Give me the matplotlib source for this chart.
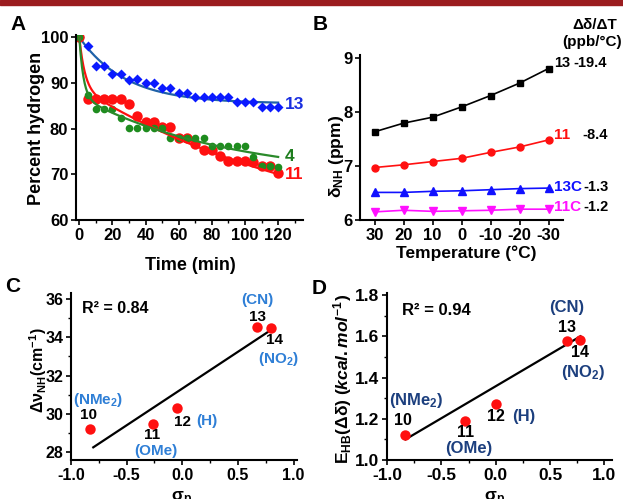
import numpy as np
import matplotlib
matplotlib.use("Agg")
import matplotlib.pyplot as plt
from matplotlib.patches import Rectangle
from matplotlib.ticker import MultipleLocator

plt.rcParams['font.family'] = ['Liberation Sans', 'DejaVu Sans']
plt.rcParams['font.weight'] = 'bold'
plt.rcParams['axes.unicode_minus'] = False
plt.rcParams['mathtext.fontset'] = 'custom'
plt.rcParams['mathtext.rm'] = 'Liberation Sans:bold'
plt.rcParams['mathtext.it'] = 'Liberation Sans:bold:italic'
plt.rcParams['mathtext.bf'] = 'Liberation Sans:bold'
plt.rcParams['mathtext.default'] = 'rm'

# ---- panel A: H/D exchange ----
time_min = [0, 5, 10, 15, 20, 25, 30, 35, 40, 45, 50, 55, 60, 65, 70, 75,
            80, 85, 90, 95, 100, 105, 110, 115, 120]
pct_13 = [100, 98, 93.8, 93.8, 92, 92, 90.7, 90.9, 89.9, 89.9, 88.8, 88.8, 87.7,
          87.9, 86.9, 86.9, 86.9, 86.9, 86.9, 85.8, 85.8, 85.8, 84.7, 84.7, 84.7]
pct_11 = [100, 86.5, 86.5, 86.5, 86.5, 86.5, 85.3, 82.8, 81.5, 81.5, 80.4, 80.4, 77.9,
          77.9, 76.6, 75.3, 75.3, 74.1, 72.9, 72.9, 72.9, 72.6, 71.8, 71.8, 70.3]
pct_4 = [100, 87.4, 84.3, 84.3, 84.3, 82.3, 80.1, 80.1, 80.1, 80.1, 80.1, 78.0, 78.0,
         78.0, 78.0, 78.0, 76.1, 76.1, 76.1, 76.1, 76.1, 73.9, 71.9, 71.9, 71.7]

# fitted decay parameters (plateau/amplitude/rate)
fit_13 = (85.5, 14.5, 0.0356)
fit_11 = (11.0, 0.30, 35.0, 0.0065)
fit_4 = (13.0, 0.40, 18.0, 0.011)

# ---- panel B: VT NMR ----
temps = [30, 20, 10, 0, -10, -20, -30]
d_13 = [7.63, 7.79, 7.90, 8.09, 8.30, 8.53, 8.80]
d_11 = [6.97, 7.02, 7.08, 7.14, 7.25, 7.35, 7.48]
d_13C = [6.51, 6.51, 6.53, 6.54, 6.56, 6.58, 6.59]
d_11C = [6.15, 6.18, 6.16, 6.17, 6.18, 6.20, 6.20]
slopes = ['-19.4', '-8.4', '-1.3', '-1.2']

# ---- panels C, D: Hammett ----
cmpd = ['10', '11', '12', '13', '14']
subst = ['(NMe$_2$)', '(OMe)', '(H)', '(CN)', '(NO$_2$)']
sigma_c = [-0.83, -0.26, -0.05, 0.67, 0.80]
dnu = [29.22, 29.48, 30.30, 34.52, 34.47]
fit_c_x = [-0.80, 0.79]
fit_c_y = [28.26, 34.35]
sigma_d = [-0.83, -0.28, 0.0, 0.655, 0.78]
ehb = [1.123, 1.191, 1.272, 1.578, 1.584]
fit_d_x = [-0.83, 0.78]
fit_d_y = [1.10, 1.60]

W, H = 623, 499
fig = plt.figure(figsize=(W / 100, H / 100), dpi=100)
fig.patches.append(Rectangle((0, 1 - 5 / H), 1, 5 / H, transform=fig.transFigure,
                             color='#9b1c1f', zorder=0))


def box(l, r, t, b):
    return [l / W, 1 - b / H, (r - l) / W, (b - t) / H]


def ftext(x, y, s, **kw):
    fig.text(x / W, 1 - y / H, s, **kw)


def style(ax, size):
    for s in ['top', 'right']:
        ax.spines[s].set_visible(False)
    for s in ['left', 'bottom']:
        ax.spines[s].set_linewidth(1.5)
    ax.tick_params(which='major', length=3.5, width=1.2, labelsize=size, pad=2)
    ax.tick_params(which='minor', length=2.5, width=1.0)


# A
axA = fig.add_axes(box(76, 303, 35, 220))
t = np.linspace(0, 120, 300)
axA.plot(t, fit_13[0] + fit_13[1] * np.exp(-fit_13[2] * t), color='#1f62a8', lw=1.6)
axA.plot(time_min, pct_13, 'D', color='#0a1aff', ms=5, mec='none')
axA.plot(time_min, pct_11, 'o', color='#ff1010', ms=7.5, mec='none')
axA.plot(time_min, pct_4, 'o', color='#1e8c1e', ms=5.5, mec='none')
y11 = 100 - fit_11[0] * (1 - np.exp(-fit_11[1] * t)) - fit_11[2] * (1 - np.exp(-fit_11[3] * t))
y4 = 100 - fit_4[0] * (1 - np.exp(-fit_4[1] * t)) - fit_4[2] * (1 - np.exp(-fit_4[3] * t))
axA.plot(t, y11, color='#ff1010', lw=1.6)
axA.plot(t, y4, color='#2a8a2a', lw=1.6)
axA.set_xlim(-2, 135)
axA.set_ylim(60, 100.5)
axA.set_xticks(range(0, 121, 20))
axA.xaxis.set_minor_locator(MultipleLocator(10))
axA.set_yticks(range(60, 101, 10))
style(axA, 12)
axA.text(124, 85.3, '13', color='#1a2fe0', fontsize=12.5, va='center')
axA.text(124, 73.8, '4', color='#1e7d1e', fontsize=12.5, va='center')
axA.text(124, 70.0, '11', color='#ff1010', fontsize=12.5, va='center')
ftext(37, 128, 'Percent hydrogen', rotation=90, ha='center', va='center', fontsize=13)
ftext(190, 265, 'Time (min)', ha='center', va='center', fontsize=13)
ftext(18, 25, 'A', ha='center', va='center', fontsize=15)

# B
axB = fig.add_axes(box(360, 563, 55, 220))
axB.plot(temps, d_13, '-s', color='black', ms=5, lw=1.2)
axB.plot(temps, d_11, '-o', color='#ff1010', ms=5, lw=1.2)
axB.plot(temps, d_13C, '-^', color='#1010ff', ms=5.5, lw=1.2)
axB.plot(temps, d_11C, '-v', color='#ff10ff', ms=5.5, lw=1.2)
axB.set_xlim(35, -35)
axB.set_ylim(6, 9.05)
axB.set_xticks(temps)
axB.set_yticks([6, 7, 8, 9])
style(axB, 12)
ftext(337, 156, 'δ$_{NH}$ (ppm)', rotation=90, ha='center', va='center', fontsize=12.5)
ftext(466, 253, 'Temperature (°C)', ha='center', va='center', fontsize=12.5)
ftext(320, 24, 'B', ha='center', va='center', fontsize=15)
ftext(595, 25, 'Δδ/ΔT', ha='center', va='center', fontsize=11)
ftext(592, 42, '(ppb/°C)', ha='center', va='center', fontsize=11)
lab_y = [63, 135, 187, 207]
lab_txt = ['13', '11', '13C', '11C']
lab_col = ['black', '#ff1010', '#1010ff', '#ff10ff']
slope_x = [573, 582, 583, 583]
for yy, s, c, sx, sl in zip(lab_y, lab_txt, lab_col, slope_x, slopes):
    ftext(554, yy, s, color=c, ha='left', va='center', fontsize=11 if c != 'black' else 10.5)
    ftext(sx, yy, sl, ha='left', va='center', fontsize=10.5)

# C
axC = fig.add_axes(box(71, 297, 293, 460))
axC.plot(fit_c_x, fit_c_y, color='black', lw=1.6)
axC.plot(sigma_c, dnu, 'o', color='#ff1010', ms=7.5, mec='none')
axC.set_xlim(-1.0, 1.03)
axC.set_ylim(27.6, 36.3)
axC.set_xticks([-1.0, -0.5, 0.0, 0.5, 1.0])
axC.set_yticks([28, 30, 32, 34, 36])
axC.xaxis.set_minor_locator(MultipleLocator(0.25))
axC.yaxis.set_minor_locator(MultipleLocator(1))
style(axC, 11.5)
blueC = '#2f7fd6'
axC.text(-0.90, 35.5, 'R² = 0.84', fontsize=11.5, va='center')
c_num = [(-0.84, 29.93), (-0.27, 28.88), (0.0, 29.56), (0.676, 35.06), (0.83, 33.85)]
c_sub = [(-0.757, 30.71), (-0.24, 28.09), (0.22, 29.61), (0.676, 35.95), (0.865, 32.86)]
for n, s, (nx, ny), (sx, sy) in zip(cmpd, subst, c_num, c_sub):
    axC.text(nx, ny, n, fontsize=11, ha='center', va='center')
    axC.text(sx, sy, s, fontsize=11, ha='center', va='center', color=blueC)
ftext(38, 370, 'Δν$_{NH}$(cm$^{-1}$)', rotation=90, ha='center', va='center', fontsize=11.5)
ftext(182, 501, 'σ$_p$', ha='center', va='baseline', fontsize=12.5)
ftext(13, 287, 'C', ha='center', va='center', fontsize=15)

# D
axD = fig.add_axes(box(387, 612, 293, 460))
axD.plot(fit_d_x, fit_d_y, color='black', lw=1.6)
axD.plot(sigma_d, ehb, 'o', color='#ff1010', ms=7.5, mec='none')
axD.set_xlim(-1.0, 1.07)
axD.set_ylim(1.0, 1.81)
axD.set_xticks([-1.0, -0.5, 0.0, 0.5, 1.0])
axD.set_yticks([1.0, 1.2, 1.4, 1.6, 1.8])
axD.xaxis.set_minor_locator(MultipleLocator(0.25))
axD.yaxis.set_minor_locator(MultipleLocator(0.1))
style(axD, 12.5)
blueD = '#1c3f7e'
axD.text(-0.86, 1.727, 'R² = 0.94', fontsize=12, va='center')
d_num = [(-0.854, 1.194), (-0.277, 1.131), (0.0, 1.21), (0.656, 1.645), (0.776, 1.519)]
d_sub = [(-0.73, 1.287), (-0.25, 1.058), (0.254, 1.213), (0.656, 1.739), (0.80, 1.424)]
for n, s, (nx, ny), (sx, sy) in zip(cmpd, subst, d_num, d_sub):
    axD.text(nx, ny, n, fontsize=11.5, ha='center', va='center')
    axD.text(sx, sy, s, fontsize=12, ha='center', va='center', color=blueD)
ftext(343, 379, 'E$_{HB}$(Δδ) ($\\mathit{kcal.mol^{-1}}$)', rotation=90,
      ha='center', va='center', fontsize=12.5)
ftext(495, 501, 'σ$_p$', ha='center', va='baseline', fontsize=12.5)
ftext(319, 288, 'D', ha='center', va='center', fontsize=15)

fig.savefig('out.png', dpi=100)
